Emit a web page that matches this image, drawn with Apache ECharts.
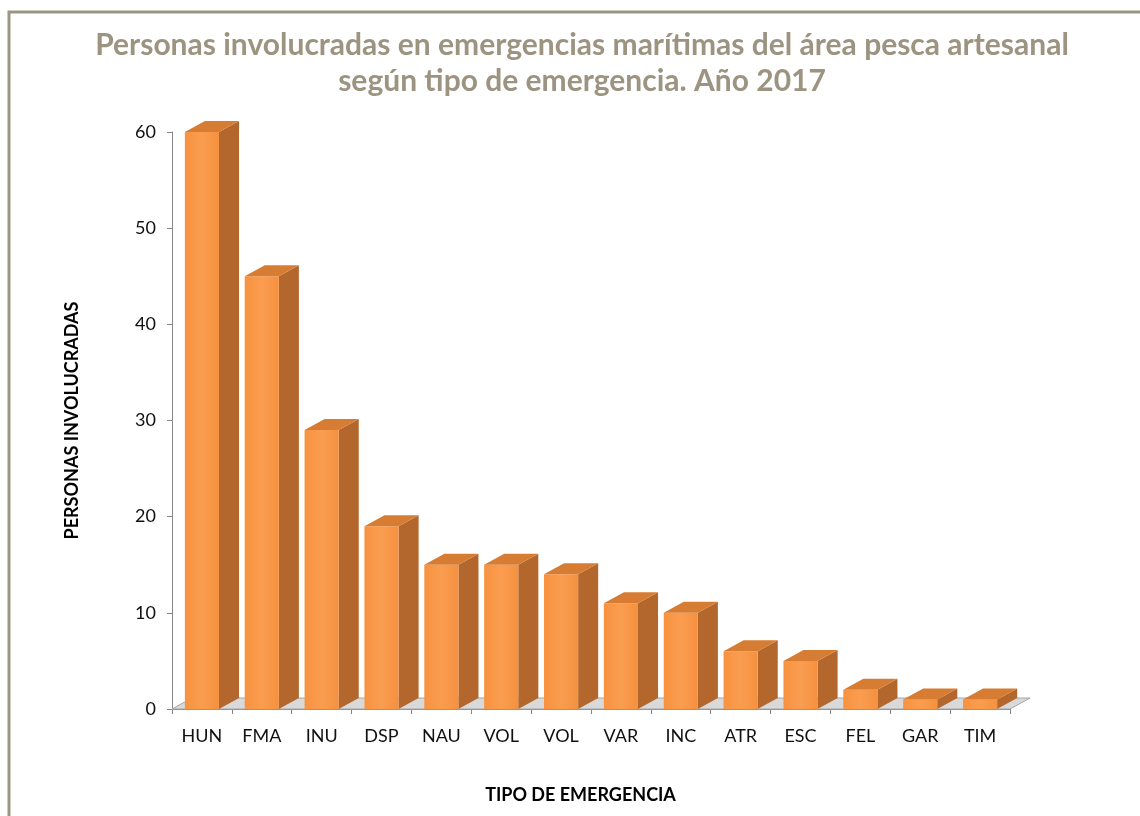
<!DOCTYPE html>
<html>
<head>
<meta charset="utf-8">
<script src="https://cdn.jsdelivr.net/npm/echarts@6/dist/echarts.min.js"></script>
<style>
  html, body { margin: 0; padding: 0; background: #fff; }
  #chart { width: 1140px; height: 816px; }
</style>
</head>
<body>
<div id="chart"></div>
<script>
// datos del gráfico
const categorias = ['HUN', 'FMA', 'INU', 'DSP', 'NAU', 'VOL', 'VOL', 'VAR', 'INC', 'ATR', 'ESC', 'FEL', 'GAR', 'TIM'];
const personas = [60, 45, 29, 19, 15, 15, 14, 11, 10, 6, 5, 2, 1, 1];
const ticksY = [0, 10, 20, 30, 40, 50, 60];

const tituloLinea1 = 'Personas involucradas en emergencias marítimas del área pesca artesanal';
const tituloLinea2 = 'según tipo de emergencia. Año 2017';

// desplazamiento "3D" de las barras y el suelo
const DX_RATIO = 0.335;
const DY = -11;
const FONT = 'Lato, "Open Sans", sans-serif';

const chart = echarts.init(document.getElementById('chart'));

// suelo gris bajo las barras
function renderSuelo(params, api) {
  const c = api.coord([0, 0]);
  const bw = api.size([1, 0])[0];
  const dx = bw * DX_RATIO;
  const left = c[0] - bw / 2;
  const right = left + categorias.length * bw;
  const y = c[1];
  return {
    type: 'polygon',
    shape: { points: [[left, y], [left + dx, y + DY], [right + dx, y + DY], [right, y]] },
    style: { fill: '#d9d9d9', stroke: '#a6a6a6', lineWidth: 1 }
  };
}

// barra en 3D: cara frontal, lateral y superior
function renderBarra(params, api) {
  const idx = api.value(0);
  const val = api.value(1);
  const top = api.coord([idx, val]);
  const base = api.coord([idx, 0]);
  const bw = api.size([1, 0])[0];
  const hw = bw * 0.285;
  const dx = bw * DX_RATIO;
  const cx = top[0];
  const l = cx - hw, r = cx + hw;
  return {
    type: 'group',
    children: [
      {
        type: 'polygon',
        shape: { points: [[r, top[1]], [r + dx, top[1] + DY], [r + dx, base[1] + DY], [r, base[1]]] },
        style: { fill: '#b3672c' }
      },
      {
        type: 'rect',
        shape: { x: l, y: top[1], width: r - l, height: base[1] - top[1] },
        style: {
          fill: new echarts.graphic.LinearGradient(0, 0, 1, 0, [
            { offset: 0, color: '#f7923f' },
            { offset: 0.5, color: '#fa9d50' },
            { offset: 1, color: '#f5913f' }
          ])
        }
      },
      {
        type: 'polygon',
        shape: { points: [[l, top[1]], [l + dx, top[1] + DY], [r + dx, top[1] + DY], [r, top[1]]] },
        style: { fill: '#d67c33' }
      }
    ]
  };
}

const option = {
  backgroundColor: '#ffffff',
  animation: false,
  graphic: [
    {
      type: 'rect',
      shape: { x: 9, y: 12, width: 1300, height: 1000 },
      style: { fill: 'none', stroke: '#9c9583', lineWidth: 3 },
      z: 100
    },
    {
      type: 'text',
      style: {
        text: tituloLinea1, x: 582, y: 45, align: 'center', verticalAlign: 'middle',
        font: 'bold 30px ' + FONT, fill: '#9c9480'
      }
    },
    {
      type: 'text',
      style: {
        text: tituloLinea2, x: 582, y: 81, align: 'center', verticalAlign: 'middle',
        font: 'bold 30px ' + FONT, fill: '#9c9480'
      }
    }
  ],
  grid: { left: 172, right: 130, top: 132, bottom: 107 },
  xAxis: {
    type: 'category',
    data: categorias,
    name: 'TIPO DE EMERGENCIA',
    nameLocation: 'middle',
    nameGap: 77,
    nameTextStyle: { fontFamily: FONT, fontWeight: 'bold', fontSize: 18, color: '#000', padding: [0, 21, 0, 0] },
    axisLine: { lineStyle: { color: '#868686', width: 1 } },
    axisTick: { show: true, length: 5, lineStyle: { color: '#868686' } },
    axisLabel: { fontFamily: FONT, fontSize: 18, color: '#111', margin: 18, interval: 0 }
  },
  yAxis: {
    type: 'value',
    min: 0,
    max: ticksY[ticksY.length - 1],
    interval: 10,
    name: 'PERSONAS INVOLUCRADAS',
    nameLocation: 'middle',
    nameGap: 91,
    nameTextStyle: { fontFamily: FONT, fontWeight: 'bold', fontSize: 18, color: '#000' },
    axisLine: { show: true, lineStyle: { color: '#868686', width: 1 } },
    axisTick: { show: true, length: 5, lineStyle: { color: '#868686' } },
    axisLabel: { fontFamily: FONT, fontSize: 18, color: '#111', margin: 16 },
    splitLine: { show: false }
  },
  series: [
    {
      type: 'custom',
      name: 'suelo',
      renderItem: renderSuelo,
      data: [[0, 0]],
      z: 1,
      silent: true
    },
    {
      type: 'custom',
      name: 'Personas',
      renderItem: renderBarra,
      encode: { x: 0, y: 1 },
      data: personas.map((v, i) => [i, v]),
      z: 2
    }
  ]
};

chart.setOption(option);
window.addEventListener('resize', function () {
  chart.resize();
});
</script>
</body>
</html>
